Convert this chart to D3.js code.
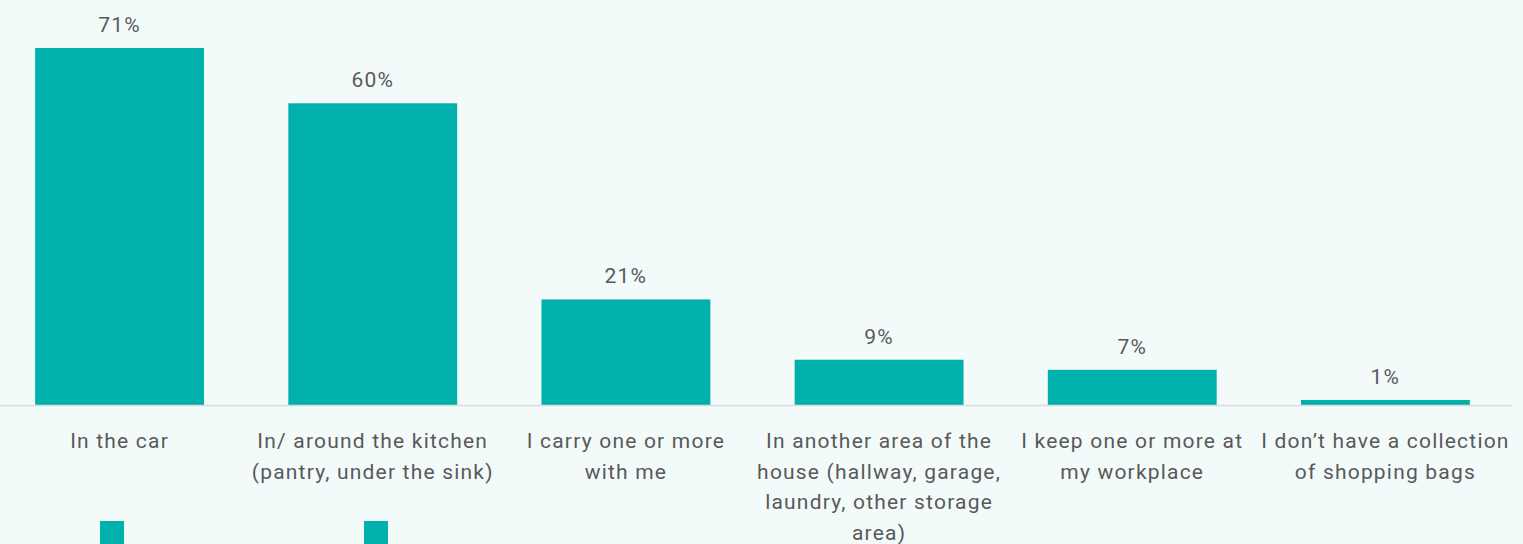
<!DOCTYPE html>
<html>
<head>
<meta charset="utf-8">
<script src="https://cdn.jsdelivr.net/npm/d3@7"></script>
<style>
  html, body { margin: 0; padding: 0; background: #f2fbfa; }
  svg { display: block; }
  text { font-family: "Roboto", "DejaVu Sans", sans-serif; fill: #595959; }
</style>
</head>
<body>
<svg id="chart" width="1523" height="544"></svg>
<script>
// Where shoppers keep their reusable shopping bags
const categories = [
  "In the car",
  "In/ around the kitchen (pantry, under the sink)",
  "I carry one or more with me",
  "In another area of the house (hallway, garage, laundry, other storage area)",
  "I keep one or more at my workplace",
  "I don’t have a collection of shopping bags"
];
const categoryLines = [
  ["In the car"],
  ["In/ around the kitchen", "(pantry, under the sink)"],
  ["I carry one or more", "with me"],
  ["In another area of the", "house (hallway, garage,", "laundry, other storage", "area)"],
  ["I keep one or more at", "my workplace"],
  ["I don’t have a collection", "of shopping bags"]
];
const values = [71, 60, 21, 9, 7, 1];
const legendItems = ["", ""];

const svg = d3.select("#chart");
const teal = "#00b0aa";

const x = d3.scaleBand()
  .domain(categories)
  .range([-7, 1512])
  .paddingInner(0.333)
  .paddingOuter(0.1665);

const y = d3.scaleLinear()
  .domain([0, 71])
  .range([405, 48]);

// bars
svg.append("g").selectAll("rect")
  .data(values)
  .join("rect")
  .attr("x", (d, i) => x(categories[i]))
  .attr("width", x.bandwidth())
  .attr("y", d => y(d))
  .attr("height", d => y(0) - y(d))
  .attr("fill", teal);

// baseline
svg.append("line")
  .attr("x1", 0).attr("x2", 1512)
  .attr("y1", y(0) + 0.5).attr("y2", y(0) + 0.5)
  .attr("stroke", "#d9dcdc").attr("stroke-width", 1.5);

const fontSize = 21, spacing = 1.2;

// value labels
svg.append("g").selectAll("text")
  .data(values)
  .join("text")
  .attr("x", (d, i) => x(categories[i]) + x.bandwidth() / 2)
  .attr("y", d => y(d) - 16)
  .attr("text-anchor", "middle")
  .attr("font-size", fontSize)
  .attr("letter-spacing", spacing)
  .text(d => d + "%");

// category labels
const catG = svg.append("g").selectAll("text")
  .data(categories)
  .join("text")
  .attr("x", d => x(d) + x.bandwidth() / 2)
  .attr("y", 448)
  .attr("text-anchor", "middle")
  .attr("font-size", fontSize)
  .attr("letter-spacing", spacing);
catG.each(function(d, i) {
  d3.select(this).selectAll("tspan")
    .data(categoryLines[i])
    .join("tspan")
    .attr("x", x(d) + x.bandwidth() / 2)
    .attr("dy", (l, j) => j === 0 ? 0 : 30.7)
    .text(l => l);
});

// legend swatches
svg.append("g").selectAll("rect")
  .data(legendItems)
  .join("rect")
  .attr("x", (d, i) => 100 + i * 264)
  .attr("y", 521)
  .attr("width", 24)
  .attr("height", 24)
  .attr("fill", teal);
</script>
</body>
</html>
